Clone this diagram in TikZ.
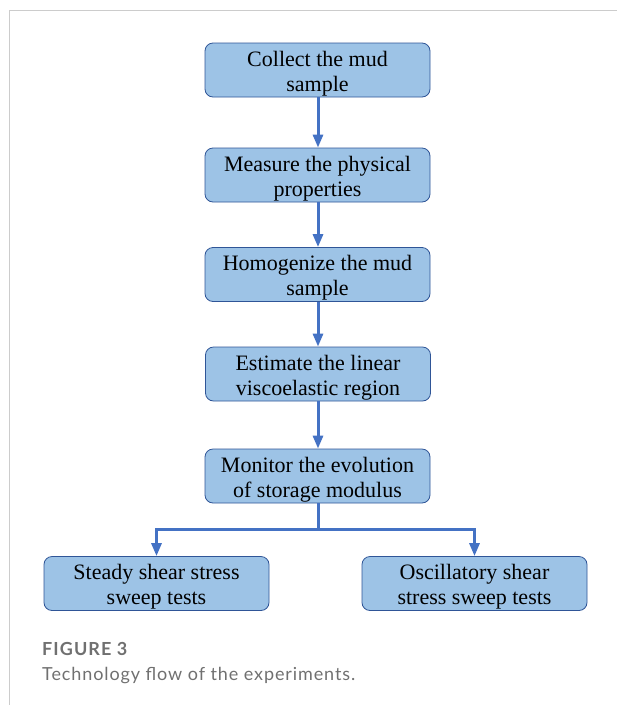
\documentclass[tikz,border=0pt]{standalone}
\usepackage{fontspec}
\setmainfont{Liberation Serif}
\newfontfamily\capfont[LetterSpace=5]{Lato}
\newfontfamily\captitlefont[LetterSpace=6]{Lato}
\usetikzlibrary{arrows.meta}
\definecolor{boxfill}{HTML}{9DC3E6}
\definecolor{boxline}{HTML}{2F5597}
\definecolor{arrowblue}{HTML}{4472C4}
\definecolor{framegray}{HTML}{CCCCCC}
\definecolor{capgray}{HTML}{707070}
\newcommand{\topstrut}{\rule{0pt}{22pt}}
\tikzset{
  flowbox/.style={draw=boxline, line width=0.8pt, fill=boxfill, rounded corners=8pt,
    minimum width=225pt, minimum height=54pt, inner sep=0pt, align=center,
    font=\fontsize{22}{25}\selectfont},
  flowarrow/.style={draw=arrowblue, line width=3pt,
    -{Triangle[width=10pt,length=13pt]}},
  captitle/.style={anchor=base west, inner sep=0pt, text=capgray, font=\captitlefont\bfseries\fontsize{18}{20}\selectfont},
  captext/.style={anchor=base west, inner sep=0pt, text=capgray, font=\capfont\fontsize{18}{20}\selectfont},
}
\begin{document}
\begin{tikzpicture}[x=1pt,y=-1pt]
\useasboundingbox (0,0) rectangle (617,705);
\draw[framegray, line width=1pt] (617,10.5) -- (9,10.5) -- (9,705);
\node[flowbox] (collect) at (317.5,70) {\topstrut Collect the mud\\sample};
\node[flowbox] (measure) at (317.5,175) {\topstrut Measure the physical\\properties};
\node[flowbox] (homog) at (317.5,274.5) {\topstrut Homogenize the mud\\sample};
\node[flowbox] (estimate) at (318,374) {\topstrut Estimate the linear\\viscoelastic region};
\node[flowbox] (monitor) at (317.5,476) {\topstrut Monitor the evolution\\of storage modulus};
\node[flowbox] (steady) at (156.5,583.5) {\topstrut Steady shear stress\\sweep tests};
\node[flowbox] (osc) at (474.5,583.5) {\topstrut Oscillatory shear\\stress sweep tests};
\coordinate (split) at (318,529);
\draw[flowarrow] (collect.south -| 318,0) -- (measure.north -| 318,0);
\draw[flowarrow] (measure.south -| 318,0) -- (homog.north -| 318,0);
\draw[flowarrow] (homog.south -| 318,0) -- (estimate.north -| 318,0);
\draw[flowarrow] (estimate.south -| 318,0) -- (monitor.north -| 318,0);
\draw[draw=arrowblue, line width=3pt] (monitor.south -| split) -- (split);
\draw[flowarrow] (split) -| (steady.north);
\draw[flowarrow] (split) -| (osc.north);
\node[captitle] (fig) at (42,655) {FIGURE 3};
\node[captext] (cap) at (42,680) {Technology flow of the experiments.};
\end{tikzpicture}
\end{document}
